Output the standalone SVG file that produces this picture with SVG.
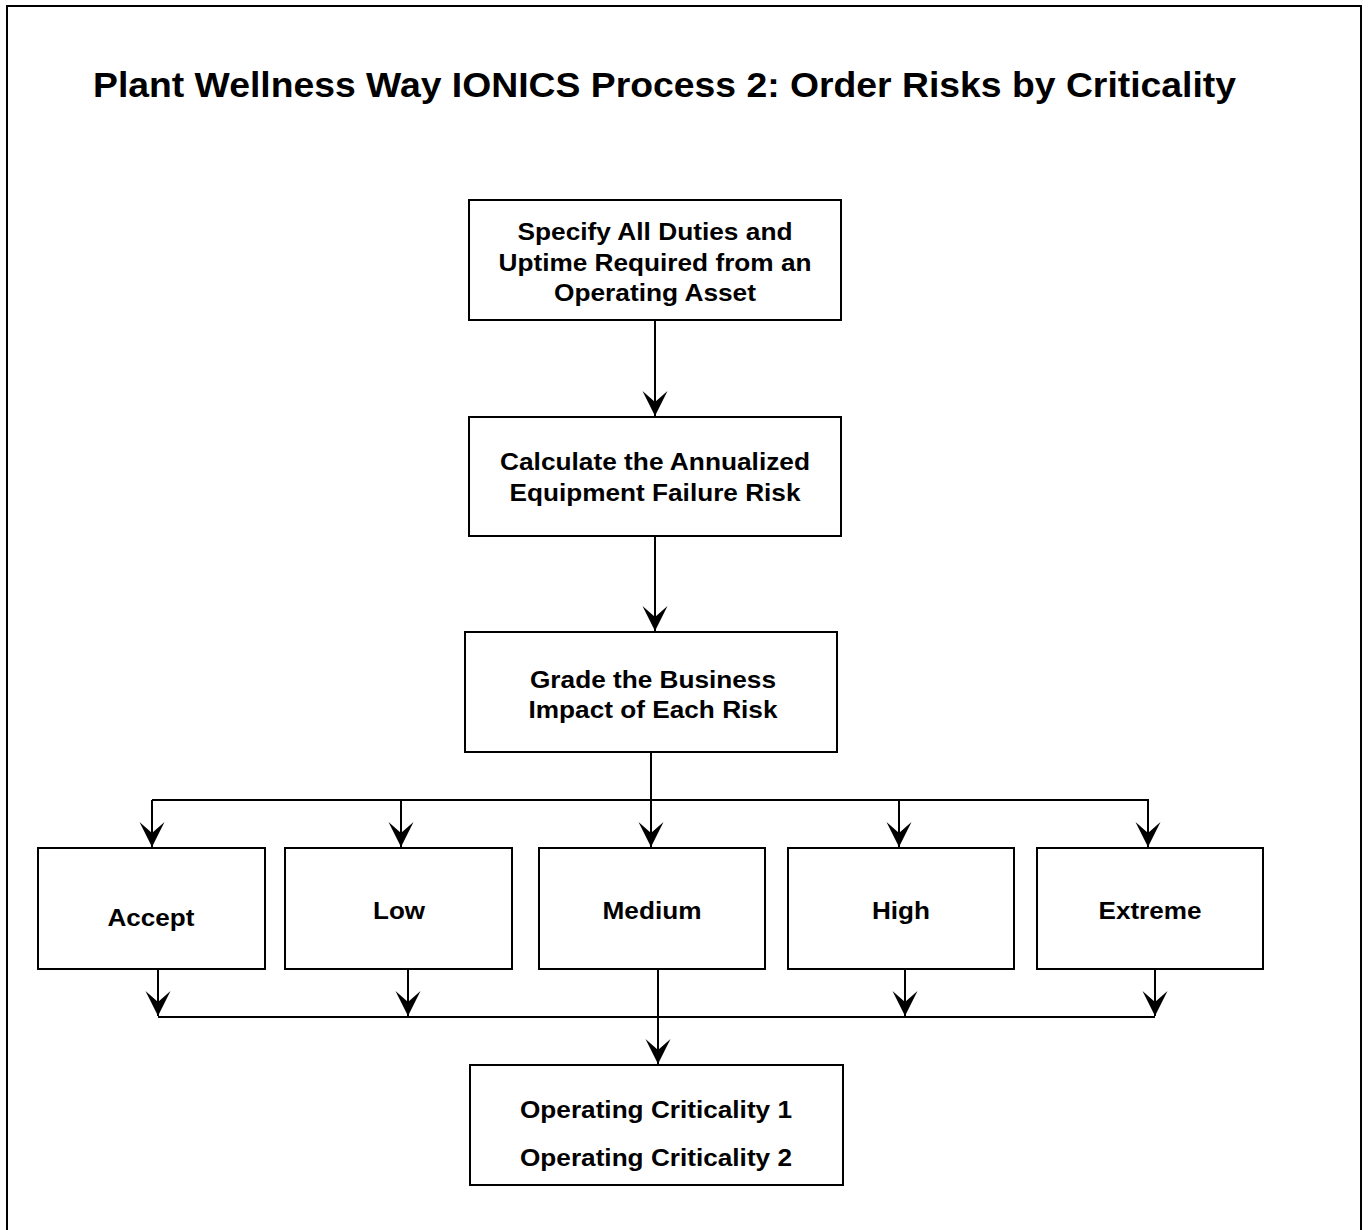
<svg xmlns="http://www.w3.org/2000/svg" width="1368" height="1230" viewBox="0 0 1368 1230">
  <style>
    .box { fill: #ffffff; stroke: #000000; stroke-width: 2; }
    .t { font-family: "Liberation Sans", Arial, sans-serif; font-weight: bold; font-size: 24.5px; fill: #000000; text-anchor: middle; }
    .title { font-family: "Liberation Sans", Arial, sans-serif; font-weight: bold; font-size: 35px; fill: #000000; }
    .conn { fill: none; stroke: #000000; stroke-width: 2; }
  </style>
  <defs>
    <marker id="arr" markerUnits="userSpaceOnUse" viewBox="-26 -13 27 26" refX="0" refY="0" markerWidth="27" markerHeight="26" orient="auto">
      <path d="M0,0 L-25,-12.5 L-14,0 L-25,12.5 Z" fill="#000000"/>
    </marker>
  </defs>
  <rect width="1368" height="1230" fill="#ffffff"/>
  <path d="M7,1232 V6 H1361 V1232" fill="none" stroke="#000000" stroke-width="2"/>
  <text class="title" x="93" y="97" textLength="1143" lengthAdjust="spacingAndGlyphs">Plant Wellness Way IONICS Process 2: Order Risks by Criticality</text>

  <g id="connectors">
    <line class="conn" x1="655" y1="320" x2="655" y2="416" marker-end="url(#arr)"/>
    <line class="conn" x1="655" y1="536" x2="655" y2="631" marker-end="url(#arr)"/>
    <line class="conn" x1="651" y1="752" x2="651" y2="847" marker-end="url(#arr)"/>
    <polyline class="conn" points="152,800 1148,800 1148,847" marker-end="url(#arr)"/>
    <line class="conn" x1="152" y1="800" x2="152" y2="847" marker-end="url(#arr)"/>
    <line class="conn" x1="401" y1="800" x2="401" y2="847" marker-end="url(#arr)"/>
    <line class="conn" x1="899" y1="800" x2="899" y2="847" marker-end="url(#arr)"/>
    <line class="conn" x1="158" y1="1017" x2="1155" y2="1017"/>
    <line class="conn" x1="158" y1="969" x2="158" y2="1016" marker-end="url(#arr)"/>
    <line class="conn" x1="408" y1="969" x2="408" y2="1016" marker-end="url(#arr)"/>
    <line class="conn" x1="905" y1="969" x2="905" y2="1016" marker-end="url(#arr)"/>
    <line class="conn" x1="1155" y1="969" x2="1155" y2="1016" marker-end="url(#arr)"/>
    <line class="conn" x1="658" y1="969" x2="658" y2="1064" marker-end="url(#arr)"/>
  </g>

  <g id="node-specify">
    <rect class="box" x="469" y="200" width="372" height="120"/>
    <text class="t" x="655" y="240" textLength="275" lengthAdjust="spacingAndGlyphs">Specify All Duties and</text>
    <text class="t" x="655" y="270.5" textLength="313" lengthAdjust="spacingAndGlyphs">Uptime Required from an</text>
    <text class="t" x="655" y="301" textLength="202" lengthAdjust="spacingAndGlyphs">Operating Asset</text>
  </g>
  <g id="node-calculate">
    <rect class="box" x="469" y="417" width="372" height="119"/>
    <text class="t" x="655" y="470" textLength="310" lengthAdjust="spacingAndGlyphs">Calculate the Annualized</text>
    <text class="t" x="655" y="501" textLength="291" lengthAdjust="spacingAndGlyphs">Equipment Failure Risk</text>
  </g>
  <g id="node-grade">
    <rect class="box" x="465" y="632" width="372" height="120"/>
    <text class="t" x="653" y="688" textLength="246" lengthAdjust="spacingAndGlyphs">Grade the Business</text>
    <text class="t" x="653" y="718" textLength="249" lengthAdjust="spacingAndGlyphs">Impact of Each Risk</text>
  </g>
  <g id="node-accept">
    <rect class="box" x="38" y="848" width="227" height="121"/>
    <text class="t" x="151" y="926" textLength="87" lengthAdjust="spacingAndGlyphs">Accept</text>
  </g>
  <g id="node-low">
    <rect class="box" x="285" y="848" width="227" height="121"/>
    <text class="t" x="399" y="919" textLength="52" lengthAdjust="spacingAndGlyphs">Low</text>
  </g>
  <g id="node-medium">
    <rect class="box" x="539" y="848" width="226" height="121"/>
    <text class="t" x="652" y="919" textLength="99" lengthAdjust="spacingAndGlyphs">Medium</text>
  </g>
  <g id="node-high">
    <rect class="box" x="788" y="848" width="226" height="121"/>
    <text class="t" x="901" y="919" textLength="58" lengthAdjust="spacingAndGlyphs">High</text>
  </g>
  <g id="node-extreme">
    <rect class="box" x="1037" y="848" width="226" height="121"/>
    <text class="t" x="1150" y="919" textLength="103" lengthAdjust="spacingAndGlyphs">Extreme</text>
  </g>
  <g id="node-criticality">
    <rect class="box" x="470" y="1065" width="373" height="120"/>
    <text class="t" x="656" y="1118" textLength="272" lengthAdjust="spacingAndGlyphs">Operating Criticality 1</text>
    <text class="t" x="656" y="1166" textLength="272" lengthAdjust="spacingAndGlyphs">Operating Criticality 2</text>
  </g>
</svg>
